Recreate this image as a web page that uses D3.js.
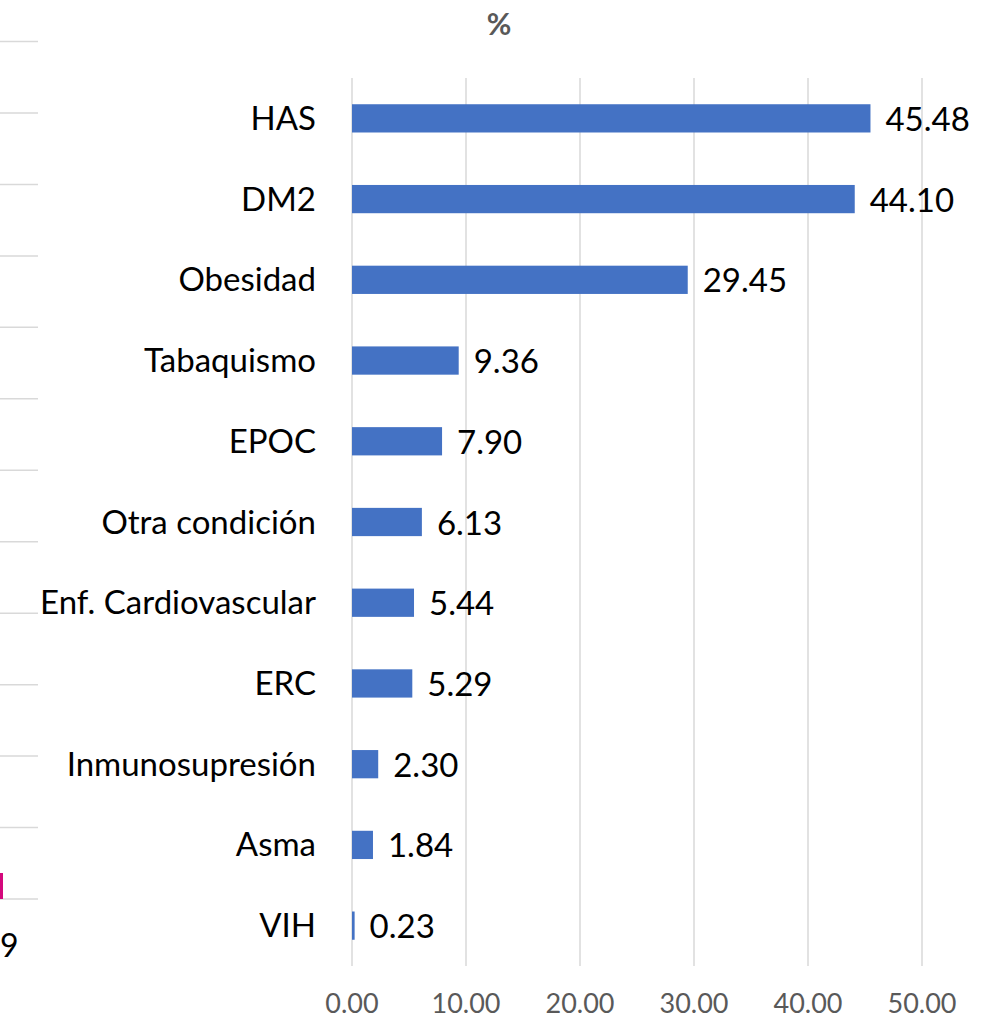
<!DOCTYPE html>
<html><head><meta charset="utf-8">
<script src="https://cdn.jsdelivr.net/npm/d3@7"></script>
<style>body{margin:0;background:#fff}svg{display:block}</style>
</head><body>
<svg id="c" width="986" height="1021"></svg>
<script>
const categories = ["HAS","DM2","Obesidad","Tabaquismo","EPOC","Otra condición","Enf. Cardiovascular","ERC","Inmunosupresión","Asma","VIH"];
const values = [45.48,44.10,29.45,9.36,7.90,6.13,5.44,5.29,2.30,1.84,0.23];
const ticks = [0,10,20,30,40,50];
const title = "%";
// partial neighbouring chart visible at the left edge
const leftGridCount = 13;
const leftBarValue = 1;
const leftLabel = "9";

const svg = d3.select("#c");
const font = "Lato, 'Open Sans', sans-serif";
const x = d3.scaleLinear().domain([0,50]).range([352,922]);
const y = d3.scaleBand().domain(categories).range([78,966]).paddingInner(0.65).paddingOuter(0.325);

// left partial chart
const ly = d3.scaleLinear().domain([0,leftGridCount-1]).range([41.5,899]);
svg.append("g").selectAll("line").data(d3.range(leftGridCount)).join("line")
  .attr("x1",0).attr("x2",38).attr("y1",d=>ly(d)).attr("y2",d=>ly(d))
  .attr("stroke","#d9d9d9").attr("stroke-width",1.5);
svg.append("rect").attr("x",0).attr("y",873).attr("width",leftBarValue*3).attr("height",ly(12)-873).attr("fill","#d4087c");
svg.append("text").attr("x",0).attr("y",946).attr("dy","0.35em").attr("font-family",font).attr("font-size",32).attr("fill","#000").text(leftLabel);

// gridlines
svg.append("g").selectAll("line").data(ticks).join("line")
  .attr("x1",d=>x(d)).attr("x2",d=>x(d)).attr("y1",78).attr("y2",966)
  .attr("stroke","#d9d9d9").attr("stroke-width",1.5);

// bars
svg.append("g").selectAll("rect").data(values).join("rect")
  .attr("x",x(0)).attr("y",(d,i)=>y(categories[i]))
  .attr("width",d=>x(d)-x(0)).attr("height",y.bandwidth())
  .attr("fill","#4472c4");

// category labels
svg.append("g").selectAll("text").data(categories).join("text")
  .attr("x",316).attr("y",d=>y(d)+y.bandwidth()/2).attr("dy","0.35em")
  .attr("text-anchor","end").attr("font-family",font).attr("font-size",33).attr("fill","#000")
  .text(d=>d);

// value labels
svg.append("g").selectAll("text").data(values).join("text")
  .attr("x",d=>x(d)+15).attr("y",(d,i)=>y(categories[i])+y.bandwidth()/2+1).attr("dy","0.35em")
  .attr("font-family",font).attr("font-size",33).attr("fill","#000")
  .text(d=>d.toFixed(2));

// x axis tick labels
svg.append("g").selectAll("text").data(ticks).join("text")
  .attr("x",d=>x(d)).attr("y",1004).attr("dy","0.35em").attr("text-anchor","middle")
  .attr("font-family",font).attr("font-size",27).attr("fill","#595959")
  .text(d=>d.toFixed(2));

svg.append("text").attr("x",499).attr("y",24).attr("dy","0.35em").attr("text-anchor","middle")
  .attr("font-family",font).attr("font-weight","bold").attr("font-size",30).attr("fill","#595959").text(title);
</script>
</body></html>
